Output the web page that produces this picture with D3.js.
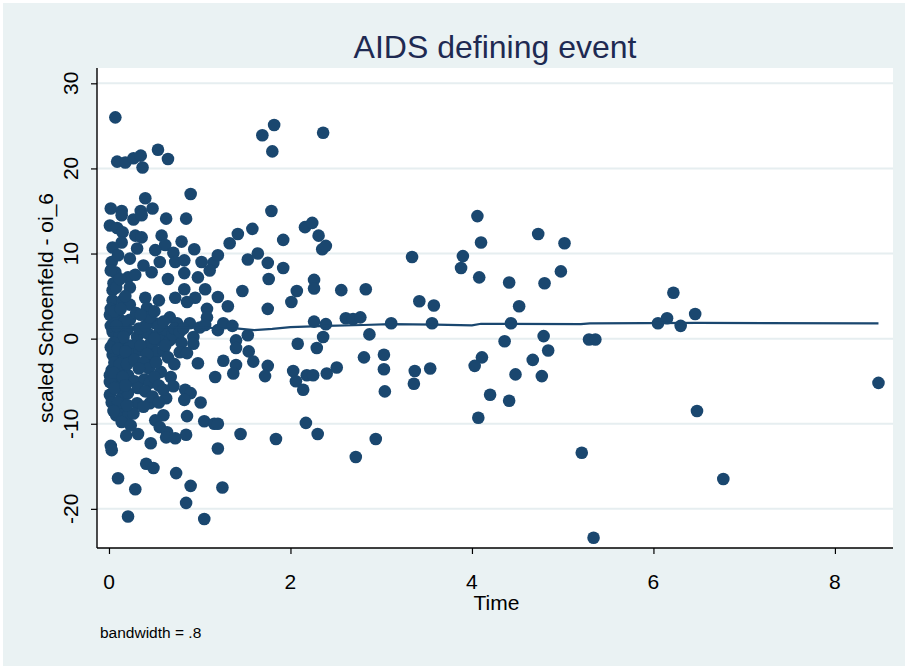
<!DOCTYPE html>
<html>
<head>
<meta charset="utf-8">
<script src="https://cdn.jsdelivr.net/npm/d3@7"></script>
<style>
  html, body { margin: 0; padding: 0; background: #ffffff; }
  svg { display: block; }
  text { font-family: "Liberation Sans", Arial, sans-serif; }
</style>
</head>
<body>
<svg id="chart" width="908" height="669"></svg>
<script>
// Scaled Schoenfeld residuals for oi_6 against analysis time, with lowess smooth
const titleText = "AIDS defining event";
const xTitle = "Time";
const yTitle = "scaled Schoenfeld - oi_6";
const noteText = "bandwidth = .8";

const xTicks = [0, 2, 4, 6, 8];
const yTicks = [-20, -10, 0, 10, 20, 30];

// residual points: [time, scaled residual]
const residuals = [
  [0.07,26.0],[0.09,20.8],[0.18,20.7],[0.27,21.2],[0.35,21.5],[0.37,20.1],[0.54,22.2],[0.65,21.1],[0.90,17.0],[0.40,16.5],
  [0.02,15.3],[0.14,15.0],[0.35,15.0],[0.48,15.3],[1.69,23.9],[1.82,25.1],[1.80,22.0],[2.36,24.2],[1.79,15.0],
  [0.14,14.5],[0.27,14.0],[0.36,14.5],[0.63,14.1],[0.85,14.1],
  [0.01,13.3],[0.09,13.0],[0.15,12.5],[0.29,12.1],[0.36,11.9],[0.58,12.1],[0.80,11.4],[0.14,11.3],[0.04,10.7],[0.31,10.6],
  [0.62,11.0],[0.51,10.4],[0.71,10.1],[0.94,10.5],
  [1.33,11.2],[1.42,12.3],[1.58,12.9],[1.92,11.6],[2.16,13.1],[2.24,13.6],[2.31,12.1],[2.35,10.5],[2.39,10.9],
  [1.53,9.3],[1.64,10.0],[1.75,8.9],[1.92,8.3],[1.76,7.0],[1.47,5.6],[2.07,5.6],[2.01,4.3],[2.26,6.9],[2.26,5.9],
  [2.56,5.7],[2.83,5.8],[1.75,3.5],
  [3.34,9.6],[3.42,4.4],[3.58,3.9],[3.90,9.7],[3.88,8.3],[4.06,14.4],[4.10,11.3],[4.08,7.2],[4.41,6.6],[4.52,3.8],
  [4.73,12.3],[4.80,6.5],[4.98,7.9],[5.02,11.2],
  [0.03,9.0],[0.10,9.8],[0.23,9.4],[0.38,8.6],[0.47,7.8],[0.56,9.0],[0.73,9.0],[0.83,9.2],[1.02,9.0],[1.15,8.9],[1.20,9.8],
  [0.07,7.8],[0.21,7.2],[0.29,7.5],[0.65,7.0],[0.83,7.7],[0.98,7.2],[1.11,8.0],
  [0.04,5.7],[0.23,6.0],[0.83,5.8],[1.06,5.8],[0.40,4.8],[0.73,4.8],[0.95,4.8],[1.20,4.9],
  [1.31,3.8],[1.08,3.5],[0.86,4.3],[0.42,3.6],[0.04,4.5],[0.15,4.5],[0.23,4.0],[0.01,2.8],[0.10,2.5],[0.23,2.2],
  [2.26,2.0],[2.39,1.7],[2.61,2.4],[2.69,2.3],[2.77,2.5],[3.11,1.8],[3.56,1.8],[4.43,1.8],
  [0.51,1.8],[0.58,1.0],[0.67,2.5],[0.75,1.8],[0.89,1.8],[1.00,1.3],[1.08,2.5],[1.06,1.6],[1.20,1.0],[1.26,1.8],[1.36,1.5],
  [6.22,5.4],[6.05,1.8],[6.15,2.4],[6.30,1.5],[6.46,2.9],
  [0.04,0.8],[0.12,0.4],[0.20,1.0],[0.14,-0.4],[0.23,-0.8],[0.31,0.2],[0.38,0.8],[0.43,0.6],[0.53,0.4],[0.64,0.8],
  [0.75,0.2],[0.93,0.2],[0.47,-1.1],[0.56,-0.2],[0.46,-0.5],[0.67,-0.2],[0.80,-0.5],[0.93,-0.6],
  [1.53,0.4],[1.40,-0.2],[1.40,-1.1],[1.54,-1.5],[2.08,-0.6],[2.36,0.2],[2.29,-1.1],[2.87,0.5],
  [4.36,-0.3],[4.79,0.3],[4.84,-1.4],[5.29,-0.1],[5.36,-0.1],
  [0.09,-2.1],[0.04,-1.9],[0.15,-3.4],[0.15,-2.5],[0.25,-1.9],[0.34,-1.4],[0.49,-2.5],[0.53,-1.6],[0.60,-1.4],[0.78,-1.6],
  [0.86,-1.7],[1.59,-2.7],[1.75,-3.2],[1.72,-4.4],[1.40,-3.1],[1.37,-4.1],[1.26,-2.6],[1.17,-4.5],[0.98,-2.9],
  [0.68,-4.5],[0.57,-3.9],[0.71,-5.6],[0.03,-3.7],[0.01,-4.3],[0.21,-4.3],[0.09,-4.7],
  [2.03,-3.8],[2.06,-5.0],[2.14,-6.0],[2.18,-4.3],[2.25,-4.3],[2.40,-4.1],[2.51,-3.4],[2.81,-2.2],[3.03,-1.9],[3.03,-3.6],
  [3.04,-6.2],[3.37,-3.8],[3.36,-5.3],[3.54,-3.5],[4.11,-2.2],[4.03,-3.2],[4.67,-2.5],[4.48,-4.2],[4.77,-4.4],
  [4.20,-6.6],[4.41,-7.3],[4.07,-9.3],[8.48,-5.2],[6.48,-8.5],
  [0.01,-6.6],[0.14,-6.9],[0.21,-6.4],[0.10,-5.2],[0.01,-5.1],[0.12,-5.7],[0.28,-5.0],[0.39,-4.8],[0.45,-5.2],[0.32,-5.8],
  [0.40,-6.2],[0.31,-7.6],[0.45,-7.6],[0.15,-8.2],[0.21,-9.0],[0.27,-8.8],[0.84,-6.0],[0.90,-6.4],[0.83,-7.2],[1.01,-7.5],
  [0.63,-7.0],[0.86,-9.1],[1.05,-9.7],[1.16,-10.0],[1.20,-10.0],[0.60,-9.0],[0.51,-9.6],[0.56,-10.4],[0.64,-11.0],
  [0.19,-11.4],[0.32,-11.2],[0.46,-12.3],[0.63,-11.6],[0.73,-11.7],[0.85,-11.3],[1.45,-11.2],[0.02,-12.6],[0.03,-13.1],[1.20,-12.9],
  [2.17,-9.9],[2.30,-11.2],[1.84,-11.8],[2.94,-11.8],[2.72,-13.9],[5.21,-13.4],[6.77,-16.5],[5.34,-23.4],
  [0.41,-14.7],[0.49,-15.2],[0.74,-15.8],[0.10,-16.4],[0.29,-17.7],[0.90,-17.3],[1.25,-17.5],[0.85,-19.3],[0.21,-20.9],[1.05,-21.2],
  [0.02,8.0],[0.05,6.5],[0.08,6.0],[0.12,7.0],[0.02,3.5],[0.06,3.2],[0.13,3.5],[0.18,5.0],[0.17,2.0],[0.02,1.5],[0.08,1.5],
  [0.16,0.2],[0.05,-0.5],[0.02,-1.0],[0.10,-1.2],[0.18,-1.5],[0.06,-2.8],[0.12,-3.0],[0.20,-3.0],[0.05,-4.0],[0.15,-4.5],
  [0.06,-5.8],[0.18,-5.5],[0.03,-7.5],[0.10,-7.5],[0.20,-7.8],[0.08,-9.0],[0.14,-9.8],[0.24,-10.2],[0.05,-8.5],
  [0.33,1.2],[0.40,1.5],[0.45,2.5],[0.50,0.0],[0.55,1.5],[0.60,2.0],[0.62,-0.8],[0.70,0.5],[0.72,1.2],[0.78,0.8],[0.82,1.2],
  [0.35,-0.8],[0.42,-1.8],[0.28,-2.5],[0.38,-2.8],[0.44,-3.5],[0.33,-3.5],[0.52,-2.8],[0.65,-2.2],[0.72,-3.0],
  [0.30,3.0],[0.35,2.8],[0.50,3.2],[0.55,4.5],
  [0.50,-4.5],[0.55,-5.5],[0.60,-6.0],[0.48,-6.8],[0.55,-7.5],[0.38,-8.0]
];

// lowess smooth (bandwidth .8)
const smoothTime  = [0, 0.3, 0.6, 0.9, 1.2, 1.4, 1.6, 1.8, 2.0, 2.4, 2.8, 3.1, 3.6, 4.0, 4.1, 5.2, 5.3, 6.5, 8.48];
const smoothValue = [1.3, 1.35, 1.35, 1.3, 1.25, 1.2, 1.0, 1.15, 1.35, 1.5, 1.6, 1.7, 1.65, 1.55, 1.75, 1.7, 1.8, 1.85, 1.8];

const navy = "#1a476f";
const bgColor = "#eaf2f3";
const gridColor = "#e6eef0";

const plot = { left: 97, right: 893, top: 68, bottom: 548 };

const svg = d3.select("#chart");

// graph region
svg.append("rect").attr("x", 3).attr("y", 3).attr("width", 902).attr("height", 663)
  .attr("fill", bgColor);

// plot region
svg.append("rect")
  .attr("x", plot.left).attr("y", plot.top)
  .attr("width", plot.right - plot.left).attr("height", plot.bottom - plot.top)
  .attr("fill", "#ffffff");

const x = d3.scaleLinear().domain([-0.132, 8.64]).range([plot.left, plot.right]);
const y = d3.scaleLinear().domain([-24.6, 31.8]).range([plot.bottom, plot.top]);

// horizontal grid
svg.append("g").selectAll("line").data(yTicks).join("line")
  .attr("x1", plot.left).attr("x2", plot.right)
  .attr("y1", d => y(d)).attr("y2", d => y(d))
  .attr("stroke", gridColor).attr("stroke-width", 2);

// scatter of residuals
svg.append("g").selectAll("circle").data(residuals).join("circle")
  .attr("cx", d => x(d[0])).attr("cy", d => y(d[1]))
  .attr("r", 6.3)
  .attr("fill", navy);

// lowess line
const smooth = smoothTime.map((t, i) => [t, smoothValue[i]]);
svg.append("path").datum(smooth)
  .attr("d", d3.line().x(d => x(d[0])).y(d => y(d[1])))
  .attr("fill", "none").attr("stroke", navy).attr("stroke-width", 2.2);

// axes
const yAxis = svg.append("g").attr("transform", `translate(${plot.left},0)`)
  .call(d3.axisLeft(y).tickValues(yTicks).tickSize(6).tickFormat(""));
const xAxis = svg.append("g").attr("transform", `translate(0,${plot.bottom})`)
  .call(d3.axisBottom(x).tickValues(xTicks).tickSize(6).tickFormat(""));
[yAxis, xAxis].forEach(a => {
  a.select(".domain").attr("stroke", "#000").attr("stroke-width", 1.4);
  a.selectAll(".tick line").attr("stroke", "#000").attr("stroke-width", 1.2);
});
// extend axis lines to the plot region corners
yAxis.select(".domain").attr("d", `M0,${plot.top}V${plot.bottom}`);
xAxis.select(".domain").attr("d", `M${plot.left},0H${plot.right}`);

// y tick labels, vertical
svg.append("g").selectAll("text").data(yTicks).join("text")
  .attr("transform", d => `translate(78,${y(d)}) rotate(-90)`)
  .attr("text-anchor", "middle")
  .attr("font-size", 21)
  .attr("fill", "#000")
  .text(d => d);

// x tick labels
svg.append("g").selectAll("text").data(xTicks).join("text")
  .attr("x", d => x(d)).attr("y", 589)
  .attr("text-anchor", "middle")
  .attr("font-size", 21)
  .attr("fill", "#000")
  .text(d => d);

// axis titles
svg.append("text")
  .attr("x", x(4.27)).attr("y", 610)
  .attr("text-anchor", "middle").attr("font-size", 21).attr("fill", "#000")
  .text(xTitle);

svg.append("text")
  .attr("transform", `translate(53,${(plot.top + plot.bottom) / 2}) rotate(-90)`)
  .attr("text-anchor", "middle").attr("font-size", 21).attr("fill", "#000")
  .text(yTitle);

// title
svg.append("text")
  .attr("x", 495).attr("y", 58)
  .attr("text-anchor", "middle").attr("font-size", 32).attr("fill", "#1e2a52")
  .text(titleText);

// note
svg.append("text")
  .attr("x", 100).attr("y", 638)
  .attr("font-size", 15.5).attr("fill", "#000")
  .text(noteText);
</script>
</body>
</html>
